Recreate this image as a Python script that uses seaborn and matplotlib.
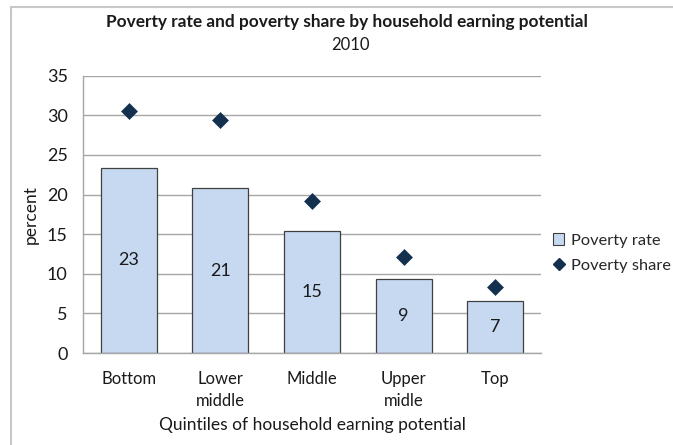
import matplotlib
matplotlib.use("Agg")
import matplotlib.pyplot as plt
from matplotlib.patches import Patch
from matplotlib.lines import Line2D
import seaborn as sns
import pandas as pd

# Data
quintiles = ["Bottom", "Lower\nmiddle", "Middle", "Upper\nmidle", "Top"]
poverty_rate = [23.4, 20.8, 15.4, 9.3, 6.6]
poverty_share = [30.6, 29.4, 19.2, 12.1, 8.3]
rate_labels = ["23", "21", "15", "9", "7"]
y_ticks = [0, 5, 10, 15, 20, 25, 30, 35]

df = pd.DataFrame({"quintile": quintiles, "rate": poverty_rate, "share": poverty_share})

sns.set_theme(style="white")
plt.rcParams["font.family"] = ["Lato", "DejaVu Sans"]

BAR_FILL = "#C6D9F1"
BAR_EDGE = "#404040"
DIAMOND = "#14304F"
GRID = "#A6A6A6"
TEXT = "#1a1a1a"

fig = plt.figure(figsize=(6.73, 4.45), dpi=100)
ax = fig.add_axes([83 / 673, 1 - 353 / 445, (541 - 83) / 673, (353 - 75.7) / 445])

sns.barplot(data=df, x="quintile", y="rate", color=BAR_FILL, saturation=1,
            width=0.61, edgecolor=BAR_EDGE, linewidth=0.9, ax=ax, zorder=2)
sns.stripplot(data=df, x="quintile", y="share", marker="D", size=8.6,
              color=DIAMOND, jitter=False, ax=ax, zorder=3, linewidth=0)

# value labels centred inside each bar
for i, (v, lab) in enumerate(zip(poverty_rate, rate_labels)):
    ax.text(i, v / 2, lab, ha="center", va="center", fontsize=13, color=TEXT, zorder=4)

ax.set_xlim(-0.5, 4.5)
ax.set_ylim(0, 35)
ax.set_yticks(y_ticks)
ax.set_yticklabels([str(t) for t in y_ticks], fontsize=13, color=TEXT)
ax.set_xticks(range(len(quintiles)))
ax.set_xticklabels(quintiles, fontsize=12, color=TEXT, linespacing=1.45)
ax.set_xticks([i - 0.5 for i in range(len(quintiles) + 1)], minor=True)
ax.tick_params(axis="x", which="major", length=0, pad=13)
ax.tick_params(axis="x", which="minor", length=5, color=GRID, direction="out", width=1)
ax.tick_params(axis="y", length=5, color=GRID, direction="out", width=1, pad=6)

ax.yaxis.grid(True, color=GRID, linewidth=1)
ax.set_axisbelow(True)
for s in ["top", "right"]:
    ax.spines[s].set_visible(False)
for s in ["left", "bottom"]:
    ax.spines[s].set_color(GRID)
    ax.spines[s].set_linewidth(1)

ax.set_xlabel("Quintiles of household earning potential", fontsize=12.5, color=TEXT, labelpad=6)
ax.set_ylabel("percent", fontsize=12.5, color=TEXT, labelpad=6)

fig.text(347 / 673, 1 - 22 / 445, "Poverty rate and poverty share by household earning potential",
         ha="center", va="center", fontsize=12.4, fontweight="bold", color=TEXT)
fig.text(350 / 673, 1 - 45 / 445, "2010", ha="center", va="center", fontsize=12, color=TEXT)

handles = [Patch(facecolor=BAR_FILL, edgecolor=BAR_EDGE, linewidth=0.8),
           Line2D([], [], marker="D", linestyle="none", color=DIAMOND, markersize=6)]
fig.legend(handles, ["Poverty rate", "Poverty share"], loc="center left",
           bbox_to_anchor=(553 / 673, 1 - 253 / 445), frameon=False, fontsize=11.8,
           handlelength=0.7, handleheight=0.7, handletextpad=0.4, labelspacing=0.62,
           borderaxespad=0, borderpad=0)

# outer chart frame (top and left edges visible in the canvas)
frame_x = 11 / 673
frame_y = 1 - 7 / 445
fig.add_artist(Line2D([frame_x, 1.0], [frame_y, frame_y], transform=fig.transFigure,
                      color="#C8C8C8", linewidth=1.5))
fig.add_artist(Line2D([frame_x, frame_x], [0.0, frame_y], transform=fig.transFigure,
                      color="#C8C8C8", linewidth=1.5))

fig.savefig("out.png", dpi=100)
